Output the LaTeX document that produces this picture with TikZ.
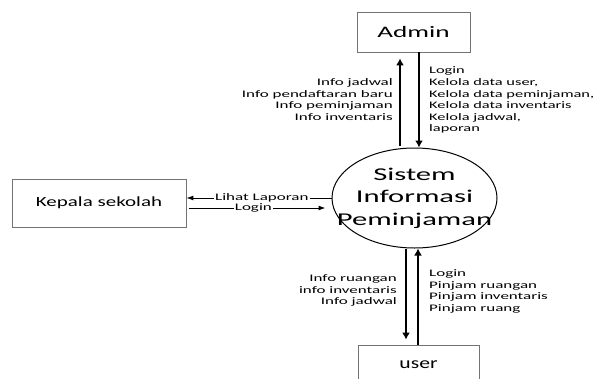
\documentclass[tikz,border=0pt]{standalone}
\usepackage{fontspec}
\setmainfont{Carlito}
\usetikzlibrary{arrows.meta,calc,shapes.geometric}
\newcommand\hx[2]{\scalebox{#1}[1]{#2}}
\begin{document}
\begin{tikzpicture}[x=1pt,y=-1pt,
 box/.style={draw=black!55, line width=0.8pt, rectangle, inner sep=0pt},
 flow/.style={line width=2.4pt, -{Latex[length=7pt,width=8pt]}},
 thinflow/.style={line width=1pt, -{Latex[length=7pt,width=5pt]}},
 lbl/.style={font=\fontsize{10}{11.6}\selectfont, inner sep=0pt},
]
\useasboundingbox (0,0) rectangle (597,378);
\node[box, minimum width=113pt, minimum height=40pt] (admin) at (413.5,32)
  {\fontsize{16}{19}\selectfont\hx{1.7}{Admin}};
\node[draw, ellipse, line width=1pt, minimum width=165pt, minimum height=100pt, inner sep=0pt] (sys) at (414.5,198)
  {\fontsize{18}{22.5}\selectfont\hx{1.7}{\makebox[0pt]{\begin{tabular}{@{}c@{}}Sistem\\Informasi\\Peminjaman\end{tabular}}}};
\node[box, minimum width=174pt, minimum height=48pt] (kepala) at (99,203)
  {\fontsize{14}{17}\selectfont\hx{1.5}{Kepala sekolah}};
\node[box, minimum width=121pt, minimum height=40pt] (user) at (418.5,365)
  {\fontsize{16}{19}\selectfont\hx{1.35}{user}};

% Admin flows
\draw[flow] ($(sys.north)+(-14.5,-2)$) -- ($(admin.south)+(-13.5,6)$);
\draw[flow] ($(admin.south)+(5.5,0)$) -- ($(sys.north)+(4.5,0)$);
\node[lbl, anchor=east] (lAdminIn) at (393,100.5)
  {\hx{1.7}{\begin{tabular}{@{}r@{}}Info jadwal\\Info pendaftaran baru\\Info peminjaman\\Info inventaris\end{tabular}}};
\node[lbl, anchor=west] (lAdminOut) at (429,100.5)
  {\hx{1.64}{\begin{tabular}{@{}l@{}}Login\\Kelola data user,\\Kelola data peminjaman,\\Kelola data inventaris\\Kelola jadwal,\\laporan\end{tabular}}};

% User flows
\draw[flow] ($(sys.south)+(-8.5,0)$) -- ($(user.north)+(-12.5,-5)$);
\draw[flow] ($(user.north)+(-0.5,0)$) -- ($(sys.south)+(3.5,0)$);
\node[lbl, anchor=east] (lUserIn) at (397,291)
  {\hx{1.7}{\begin{tabular}{@{}r@{}}Info ruangan\\info inventaris\\Info jadwal\end{tabular}}};
\node[lbl, anchor=west] (lUserOut) at (429,291.5)
  {\hx{1.7}{\begin{tabular}{@{}l@{}}Login\\Pinjam ruangan\\Pinjam inventaris\\Pinjam ruang\end{tabular}}};

% Kepala sekolah flows
\draw[thinflow] (sys.west) -- node[lbl, fill=white, inner xsep=1pt, pos=0.48] (lLihat) {\hx{1.7}{Lihat Laporan}} (kepala.east |- sys.west);
\coordinate (loginEnd) at ($(sys.west)+(-6,10)$);
\draw[thinflow] ($(kepala.east)+(3,5)$) -- node[lbl, fill=white, inner xsep=1pt, pos=0.47] (lLogin) {\hx{1.7}{Login}} (loginEnd);
\end{tikzpicture}
\end{document}
